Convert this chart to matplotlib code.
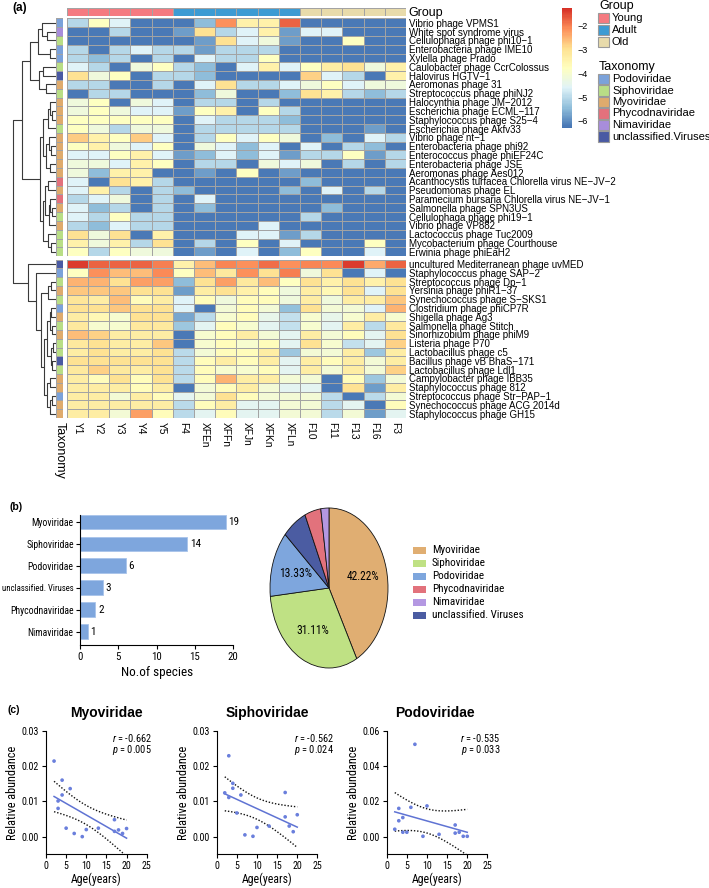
import numpy as np
import matplotlib
matplotlib.use('Agg')
import matplotlib.pyplot as plt
from matplotlib.colors import LinearSegmentedColormap, ListedColormap, Normalize
from matplotlib.patches import Rectangle
from matplotlib import font_manager
import matplotlib.colorbar as mcolorbar

# ---------------------------------------------------------------- data
samples = ['Y1', 'Y2', 'Y3', 'Y4', 'Y5', 'F4', 'XFEn', 'XFFn', 'XFJn', 'XFKn',
           'XFLn', 'F10', 'F11', 'F13', 'F16', 'F3']
sample_groups = ['Young'] * 5 + ['Adult'] * 6 + ['Old'] * 5

species = [
    'Vibrio phage VPMS1', 'White spot syndrome virus', 'Cellulophaga phage phi10\u22121',
    'Enterobacteria phage IME10', 'Xylella phage Prado', 'Caulobacter phage CcrColossus',
    'Halovirus HGTV\u22121', 'Aeromonas phage 31', 'Streptococcus phage phiNJ2',
    'Halocynthia phage JM\u22122012', 'Escherichia phage ECML\u2212117',
    'Staphylococcus phage S25\u22124', 'Escherichia phage Akfv33', 'Vibrio phage nt\u22121',
    'Enterobacteria phage phi92', 'Enterococcus phage phiEF24C', 'Enterobacteria phage JSE',
    'Aeromonas phage Aes012', 'Acanthocystis turfacea Chlorella virus NE\u2212JV\u22122',
    'Pseudomonas phage EL', 'Paramecium bursaria Chlorella virus NE\u2212JV\u22121',
    'Salmonella phage SPN3US', 'Cellulophaga phage phi19\u22121', 'Vibrio phage VP882',
    'Lactococcus phage Tuc2009', 'Mycobacterium phage Courthouse', 'Erwinia phage phiEaH2',
    'uncultured Mediterranean phage uvMED', 'Staphylococcus phage SAP\u22122',
    'Streptococcus phage Dp\u22121', 'Yersinia phage phiR1\u221237',
    'Synechococcus phage S\u2212SKS1', 'Clostridium phage phiCP7R', 'Shigella phage Ag3',
    'Salmonella phage Stitch', 'Sinorhizobium phage phiM9', 'Listeria phage P70',
    'Lactobacillus phage c5', 'Bacillus phage vB BhaS\u2212171', 'Lactobacillus phage Ldl1',
    'Campylobacter phage IBB35', 'Staphylococcus phage 812',
    'Streptococcus phage Str\u2212PAP\u22121', 'Synechococcus phage ACG 2014d',
    'Staphylococcus phage GH15']

taxonomy = ['Podo', 'Nima', 'Sipho', 'Podo', 'Podo', 'Sipho', 'Uncl', 'Myo', 'Sipho',
            'Myo', 'Myo', 'Myo', 'Sipho', 'Myo', 'Myo', 'Myo', 'Myo', 'Myo', 'Phyco',
            'Myo', 'Phyco', 'Myo', 'Sipho', 'Myo', 'Sipho', 'Sipho', 'Sipho',
            'Uncl', 'Podo', 'Sipho', 'Myo', 'Sipho', 'Podo', 'Myo', 'Sipho', 'Myo',
            'Sipho', 'Sipho', 'Uncl', 'Sipho', 'Myo', 'Myo', 'Podo', 'Myo', 'Myo']

n_top_cluster = 27

abundance = [
    [-5.05, -3.8, -4.6, -6.2, -6.2, -6.2, -5.45, -2.15, -3.4, -3.4, -1.75, -6.2, -6.2, -6.2, -6.2, -6.2],
    [-6.2, -6.2, -5.05, -6.2, -6.2, -5.8, -3.0, -5.05, -4.6, -3.4, -5.8, -4.6, -4.6, -6.2, -6.2, -6.2],
    [-6.2, -6.2, -6.2, -6.2, -6.2, -6.2, -5.8, -3.0, -4.6, -4.2, -5.8, -6.2, -6.2, -3.8, -6.2, -6.2],
    [-5.05, -6.2, -5.05, -4.6, -5.05, -5.05, -5.8, -5.05, -5.05, -5.05, -6.2, -6.2, -6.2, -6.2, -6.2, -6.2],
    [-5.05, -5.45, -5.05, -6.2, -5.05, -6.2, -4.6, -5.05, -5.05, -3.8, -6.2, -6.2, -6.2, -6.2, -6.2, -6.2],
    [-4.6, -5.05, -6.2, -4.2, -3.8, -5.05, -5.45, -6.2, -4.6, -3.4, -4.6, -3.8, -3.3, -3.0, -4.2, -3.4],
    [-3.0, -4.2, -3.8, -6.2, -5.05, -5.05, -5.45, -6.2, -6.2, -6.2, -6.2, -2.8, -4.6, -5.05, -6.2, -3.4],
    [-5.05, -5.05, -6.2, -6.2, -5.05, -6.2, -4.6, -3.0, -5.05, -5.05, -4.6, -4.2, -3.8, -4.6, -4.2, -4.2],
    [-6.2, -5.05, -5.05, -6.2, -6.2, -6.2, -5.45, -4.2, -6.2, -6.2, -5.45, -3.0, -3.4, -5.05, -5.45, -5.05],
    [-4.2, -3.8, -6.2, -4.2, -4.6, -6.2, -5.05, -5.05, -6.2, -5.05, -6.2, -6.2, -6.2, -6.2, -6.2, -6.2],
    [-4.2, -3.8, -4.2, -4.6, -4.6, -5.8, -3.8, -3.4, -6.2, -3.8, -5.05, -6.2, -6.2, -6.2, -6.2, -6.2],
    [-3.8, -3.8, -3.8, -3.8, -3.8, -6.2, -4.6, -5.05, -5.05, -5.05, -5.45, -6.2, -6.2, -6.2, -6.2, -6.2],
    [-3.8, -4.2, -5.05, -4.2, -4.2, -6.2, -5.05, -5.05, -5.05, -5.05, -5.05, -6.2, -6.2, -6.2, -5.8, -6.2],
    [-2.75, -3.4, -3.8, -2.75, -4.6, -6.2, -5.05, -3.8, -4.6, -3.8, -4.2, -6.2, -5.45, -6.2, -4.6, -5.05],
    [-3.8, -3.4, -4.2, -4.6, -3.8, -6.2, -4.2, -4.6, -5.45, -4.6, -6.2, -4.6, -6.2, -5.05, -5.45, -6.2],
    [-4.6, -4.6, -3.8, -3.4, -4.6, -5.8, -5.45, -4.6, -5.45, -4.6, -5.8, -5.05, -5.05, -3.8, -5.8, -5.05],
    [-4.2, -4.2, -4.6, -3.4, -3.8, -6.2, -5.05, -5.05, -6.2, -4.2, -4.6, -4.2, -6.2, -5.05, -6.2, -5.05],
    [-4.2, -5.45, -3.4, -3.4, -6.2, -6.2, -5.8, -6.2, -3.8, -6.2, -5.8, -6.2, -6.2, -6.2, -6.2, -6.2],
    [-4.6, -6.2, -3.0, -3.4, -5.05, -6.2, -6.2, -6.2, -6.2, -6.2, -6.2, -5.45, -6.2, -6.2, -6.2, -6.2],
    [-4.6, -3.4, -5.05, -6.2, -5.05, -5.45, -6.2, -6.2, -6.2, -6.2, -5.45, -6.2, -4.6, -6.2, -5.05, -6.2],
    [-5.05, -4.6, -4.2, -6.2, -5.05, -6.2, -4.6, -6.2, -6.2, -6.2, -6.2, -6.2, -6.2, -6.2, -6.2, -6.2],
    [-4.6, -5.45, -5.05, -6.2, -5.05, -6.2, -5.45, -6.2, -6.2, -6.2, -6.2, -6.2, -5.45, -6.2, -6.2, -6.2],
    [-4.6, -5.05, -3.8, -5.05, -5.05, -6.2, -6.2, -6.2, -6.2, -6.2, -6.2, -5.05, -6.2, -6.2, -6.2, -6.2],
    [-5.05, -5.45, -4.6, -5.05, -5.05, -6.2, -6.2, -6.2, -6.2, -4.6, -6.2, -6.2, -6.2, -6.2, -6.2, -6.2],
    [-3.0, -4.2, -3.0, -6.2, -3.4, -6.2, -6.2, -6.2, -4.6, -4.6, -5.8, -5.05, -6.2, -6.2, -6.2, -6.2],
    [-3.4, -4.2, -3.4, -5.05, -3.0, -6.2, -5.05, -6.2, -3.8, -6.2, -4.6, -6.2, -6.2, -6.2, -3.8, -6.2],
    [-3.8, -5.05, -3.8, -4.2, -4.2, -6.2, -5.8, -6.2, -4.6, -6.2, -5.45, -3.8, -6.2, -6.2, -4.6, -6.2],
    [-1.4, -1.75, -1.75, -1.75, -2.0, -3.4, -2.6, -2.05, -2.15, -1.85, -2.15, -2.05, -2.1, -1.4, -2.4, -1.75],
    [-3.8, -2.15, -2.6, -2.6, -2.1, -3.8, -2.6, -3.2, -2.15, -3.0, -2.0, -4.2, -3.0, -6.2, -4.6, -6.2],
    [-2.5, -2.5, -3.0, -2.3, -2.3, -5.45, -3.0, -2.3, -3.2, -2.6, -3.8, -3.0, -3.4, -3.0, -3.4, -3.0],
    [-2.7, -2.7, -2.7, -3.0, -3.0, -5.8, -3.3, -3.0, -3.4, -3.7, -4.2, -3.3, -3.6, -3.0, -4.6, -3.0],
    [-3.1, -3.3, -2.6, -3.7, -3.3, -4.6, -3.7, -4.2, -3.7, -3.7, -4.2, -3.3, -4.2, -3.3, -3.3, -2.7],
    [-3.0, -3.0, -2.7, -3.0, -3.0, -4.6, -6.2, -4.1, -3.7, -4.1, -5.4, -3.0, -4.1, -4.1, -4.6, -2.5],
    [-3.3, -3.6, -4.0, -3.0, -3.0, -5.7, -5.0, -4.0, -3.7, -4.4, -4.9, -4.0, -4.4, -4.0, -3.3, -4.0],
    [-3.2, -4.0, -4.0, -3.2, -3.2, -5.3, -4.5, -3.7, -4.0, -4.5, -4.9, -4.0, -4.5, -3.3, -5.0, -3.2],
    [-2.6, -2.8, -3.3, -3.3, -3.3, -6.2, -4.0, -3.7, -3.3, -4.1, -4.5, -3.3, -4.1, -3.7, -4.5, -3.0],
    [-3.2, -3.0, -3.3, -3.3, -2.7, -6.2, -4.0, -3.7, -4.0, -3.7, -4.5, -3.0, -4.0, -4.9, -4.5, -2.8],
    [-3.3, -3.0, -3.3, -3.3, -3.0, -5.0, -4.1, -3.7, -3.7, -3.3, -5.3, -4.1, -4.1, -3.3, -5.3, -3.3],
    [-3.0, -3.0, -3.0, -3.0, -3.0, -5.0, -3.7, -3.3, -3.7, -3.3, -4.5, -3.3, -3.7, -3.3, -4.1, -3.3],
    [-3.2, -2.8, -3.2, -3.3, -3.0, -5.0, -3.7, -4.0, -4.0, -3.7, -4.5, -3.3, -4.1, -3.3, -4.1, -2.8],
    [-3.3, -3.7, -3.0, -3.7, -3.0, -5.0, -3.7, -2.5, -3.3, -3.3, -4.1, -4.1, -6.2, -3.7, -5.3, -4.1],
    [-3.3, -3.3, -3.3, -3.7, -3.3, -6.2, -4.1, -3.7, -3.3, -4.1, -4.5, -4.5, -6.2, -3.0, -5.8, -3.3],
    [-3.3, -3.3, -4.1, -3.3, -3.7, -4.5, -4.1, -3.0, -3.7, -4.1, -4.1, -4.1, -5.0, -6.2, -5.0, -4.1],
    [-3.3, -3.3, -3.3, -3.3, -3.3, -5.0, -3.7, -3.3, -4.5, -4.5, -4.1, -4.1, -5.0, -4.5, -6.2, -3.7],
    [-3.3, -3.3, -4.1, -2.3, -3.7, -5.0, -4.5, -3.7, -4.5, -4.5, -4.1, -4.1, -5.0, -4.1, -5.8, -4.5],
]
color_range = (-6.28, -1.3)

# row dendrogram: (left, right, merge height); leaves are row indices
tree_A = ((0, (1, 2, 9), 14), (3, 4, 6), 18)
tree_B = ((5, 6, 13), (7, 8, 10), 17)
tree_C1 = ((9, (10, 11, 4), 6), 12, 8)
tree_C2 = ((13, (14, 15, 5), 7), (16, 17, 6), 10)
tree_C3 = ((18, 19, 8), ((20, (21, 22, 4), 6), 23, 7), 11)
tree_C4 = (24, (25, 26, 5), 8)
tree_top = ((tree_A, tree_B, 26), ((tree_C1, tree_C2, 13), (tree_C3, tree_C4, 13.5), 16), 34)
tree_E1 = ((29, 30, 5), 31, 8)
tree_E2 = (((32, 33, 5), (34, 35, 4), 6.5), ((36, 37, 3), (38, 39, 4), 5.5), 9)
tree_E3 = ((40, 41, 6), ((42, 43, 4), 44, 6), 9)
tree_bot = (27, (28, (tree_E1, (tree_E2, tree_E3, 12), 15), 20), 28)
tree_root = (tree_top, tree_bot, 43)

# panel b
families = ['Myoviridae', 'Siphoviridae', 'Podoviridae', 'unclassified. Viruses',
            'Phycodnaviridae', 'Nimaviridae']
species_counts = [19, 14, 6, 3, 2, 1]
legend_order = ['Myoviridae', 'Siphoviridae', 'Podoviridae', 'Phycodnaviridae',
                'Nimaviridae', 'unclassified. Viruses']

# panel c
age_years = [2, 3, 3, 4, 4, 5, 6, 7, 9, 10, 13, 17, 17, 18, 19, 20]
myo_abund = [0.0214, 0.0101, 0.0080, 0.0118, 0.0160, 0.0024, 0.0136, 0.0009,
             0.0000, 0.0020, 0.0024, 0.0048, 0.0015, 0.0019, 0.0009, 0.0023]
sipho_abund = [0.0124, 0.0229, 0.0111, 0.0137, 0.0151, 0.0067, 0.0118, 0.0005,
               0.0001, 0.0026, 0.0030, 0.0125, 0.0056, 0.0030, 0.0014, 0.0062]
podo_abund = [0.0042, 0.0160, 0.0090, 0.0108, 0.0025, 0.0025, 0.0166, 0.0523,
              0.0002, 0.0174, 0.0013, 0.0066, 0.0020, 0.0025, 0.0002, 0.0002]
corr_text = [('-0.662', '0.005'), ('-0.562', '0.024'), ('-0.535', '0.033')]

# ---------------------------------------------------------------- fonts
W, H = 709, 888
SANS = 'Liberation Sans'
ttf = font_manager.fontManager.ttflist
names = {f.name for f in ttf}
NFONT = None
for cand in ['Liberation Sans Narrow', 'Arial Narrow', 'Roboto Condensed',
             'Open Sans Condensed', 'Noto Sans Condensed', 'DejaVu Sans Condensed',
             'Noto Sans SemiCondensed', 'Open Sans SemiCondensed']:
    if cand in names:
        NFONT = dict(family=cand)
        break
if NFONT is None:
    for fam in ['Noto Sans', 'Open Sans', 'Roboto', 'DejaVu Sans', 'Lato', 'Inter']:
        if any(f.name == fam and f.stretch in ('condensed', 'semi-condensed') for f in ttf):
            NFONT = dict(family=fam, stretch='condensed')
            break
HAVE_NARROW = NFONT is not None
if NFONT is None:
    NFONT = dict(family=SANS)
NS = 1.0 if HAVE_NARROW else 0.86   # size factor for the narrow-font panels

plt.rcParams['font.family'] = [SANS, 'DejaVu Sans']
plt.rcParams['mathtext.fontset'] = 'custom'
plt.rcParams['mathtext.it'] = NFONT['family'] + ':italic'
plt.rcParams['mathtext.rm'] = NFONT['family']


def nf(t):
    t.set_family(NFONT['family'])
    if 'stretch' in NFONT:
        t.set_stretch(NFONT['stretch'])
    return t


group_colors = {'Young': '#f57a80', 'Adult': '#3c9bd3', 'Old': '#e8dbab'}
tax_colors = {'Podo': '#7ba2da', 'Sipho': '#b9de86', 'Myo': '#dfab6d',
              'Phyco': '#e3717c', 'Nima': '#a88ddb', 'Uncl': '#4a5aa3'}
tax_names = {'Podo': 'Podoviridae', 'Sipho': 'Siphoviridae', 'Myo': 'Myoviridae',
             'Phyco': 'Phycodnaviridae', 'Nima': 'Nimaviridae',
             'Uncl': 'unclassified.Viruses'}
fam_colors = {'Myoviridae': '#e0ae72', 'Siphoviridae': '#bfe184', 'Podoviridae': '#7ea6dd',
              'Phycodnaviridae': '#e2727c', 'Nimaviridae': '#b498e2',
              'unclassified. Viruses': '#4b5ca2'}
cmap = LinearSegmentedColormap.from_list(
    'rdylbu_r', ['#4575B4', '#91BFDB', '#E0F3F8', '#FFFFBF', '#FEE090', '#FC8D59', '#D73027'], N=100)
norm = Normalize(*color_range)
GRID = '#a3a3a3'

fig = plt.figure(figsize=(W / 100, H / 100), dpi=100)


def px_axes(l, t, w, h):
    return fig.add_axes([l / W, 1 - (t + h) / H, w / W, h / H])


def strip(ax):
    for s in ax.spines.values():
        s.set_visible(False)


# ---------------------------------------------------------------- (a) heatmap
HX0, HX1 = 66.7, 406.0
ROW_H = 8.8
TOP_Y0, BOT_Y0 = 18.5, 259.6
data = np.array(abundance)
n_rows = data.shape[0]
ncol = len(samples)
keys = list(tax_colors.keys())

blocks = [(TOP_Y0, slice(0, n_top_cluster)), (BOT_Y0, slice(n_top_cluster, n_rows))]
for bi, (y0, sl) in enumerate(blocks):
    sub = data[sl]
    nr = sub.shape[0]
    ax = px_axes(HX0, y0, HX1 - HX0, nr * ROW_H)
    ax.pcolormesh(sub, cmap=cmap, norm=norm, edgecolors=GRID, linewidth=0.7)
    ax.set_xlim(0, ncol)
    ax.set_ylim(nr, 0)
    strip(ax)
    ax.yaxis.tick_right()
    ax.set_yticks(np.arange(nr) + 0.5)
    ax.set_yticklabels(species[sl], fontsize=7)
    ax.tick_params(axis='y', length=0, pad=2)
    if bi == 1:
        ax.set_xticks(np.arange(ncol) + 0.5)
        ax.set_xticklabels(samples, rotation=-90, fontsize=7.3)
        ax.tick_params(axis='x', length=0, pad=3)
    else:
        ax.set_xticks([])

    axt = px_axes(56.0, y0, 7.4, nr * ROW_H)
    codes = np.array([[keys.index(t)] for t in taxonomy[sl]])
    axt.pcolormesh(codes, cmap=ListedColormap([tax_colors[k] for k in keys]),
                   vmin=-0.5, vmax=len(keys) - 0.5, edgecolors=GRID, linewidth=0.7)
    axt.set_xlim(0, 1)
    axt.set_ylim(nr, 0)
    strip(axt)
    axt.set_yticks([])
    if bi == 1:
        axt.set_xticks([0.5])
        axt.set_xticklabels(['Taxonomy'], rotation=-90, fontsize=9)
        axt.tick_params(axis='x', length=0, pad=3)
    else:
        axt.set_xticks([])

axg = px_axes(HX0, 7.7, HX1 - HX0, 8.3)
gkeys = list(group_colors.keys())
axg.pcolormesh(np.array([[gkeys.index(g) for g in sample_groups]]),
               cmap=ListedColormap([group_colors[k] for k in gkeys]),
               vmin=-0.5, vmax=len(gkeys) - 0.5, edgecolors=GRID, linewidth=0.7)
axg.set_xlim(0, ncol)
axg.set_ylim(1, 0)
strip(axg)
axg.set_xticks([])
axg.yaxis.tick_right()
axg.set_yticks([0.5])
axg.set_yticklabels(['Group'], fontsize=9)
axg.tick_params(axis='y', length=0, pad=2)

gap = (BOT_Y0 - TOP_Y0 - n_top_cluster * ROW_H) / ROW_H
total_rows = n_rows + gap
axd = px_axes(12.0, TOP_Y0, 44.0, total_rows * ROW_H)
axd.set_xlim(44, 0)
axd.set_ylim(total_rows, 0)
axd.axis('off')


def leaf_y(i):
    return i + 0.5 + (gap if i >= n_top_cluster else 0)


def draw_tree(node):
    if isinstance(node, int):
        return leaf_y(node), 0.0
    a, b, h = node
    ya, ha = draw_tree(a)
    yb, hb = draw_tree(b)
    axd.plot([ha, h, h, hb], [ya, ya, yb, yb], color='#3a3a3a', lw=0.8,
             solid_capstyle='butt')
    return (ya + yb) / 2, h


draw_tree(tree_root)

axc = px_axes(561.7, 8.3, 10.0, 119.4)
cb = mcolorbar.ColorbarBase(axc, cmap=cmap, norm=norm, orientation='vertical',
                            ticks=[-2, -3, -4, -5, -6])
cb.outline.set_visible(False)
axc.tick_params(length=0, pad=4, labelsize=6.5)

ov = fig.add_axes([0, 0, 1, 1], zorder=-1)
ov.set_xlim(0, W)
ov.set_ylim(H, 0)
ov.axis('off')

ov.text(599, 5.5, 'Group', fontsize=9, va='center', ha='left')
for i, g in enumerate(gkeys):
    yc = 18 + i * 12
    ov.add_patch(Rectangle((597.5, yc - 5), 11.5, 10, facecolor=group_colors[g],
                           edgecolor='#9a9a9a', lw=0.8))
    ov.text(612, yc, g, fontsize=8, va='center', ha='left')

ov.text(599, 67, 'Taxonomy', fontsize=9, va='center', ha='left')
for i, k in enumerate(keys):
    yc = 79 + i * 11.5
    ov.add_patch(Rectangle((597.5, yc - 5.2), 11.5, 10.4, facecolor=tax_colors[k],
                           edgecolor='#9a9a9a', lw=0.8))
    ov.text(612, yc, tax_names[k], fontsize=8, va='center', ha='left')

ov.text(12, 7.5, '(a)', fontsize=8.5, fontweight='bold', va='center', ha='left')
ov.text(9, 506.5, '(b)', fontsize=7.5, fontweight='bold', va='center', ha='left')
ov.text(7, 709.5, '(c)', fontsize=7.5, fontweight='bold', va='center', ha='left')

# ---------------------------------------------------------------- (b) bar
axb = px_axes(80, 515, 153.3, 130)
ypos = np.arange(len(families))[::-1]
axb.barh(ypos, species_counts, height=0.68, color='#7ea6dd', edgecolor='#a8c3ea', lw=0.6)
for yy, v in zip(ypos, species_counts):
    nf(axb.text(v + 0.35, yy, str(v), va='center', ha='left', fontsize=8 * NS))
axb.set_xlim(0, 20)
axb.set_ylim(-0.6, 5.32)
axb.set_yticks(ypos)
axb.set_yticklabels(families)
axb.set_xticks([0, 5, 10, 15, 20])
axb.tick_params(axis='both', length=3, width=0.8, pad=2)
axb.tick_params(axis='x', labelsize=(7.8 if HAVE_NARROW else 6.6))
axb.tick_params(axis='y', labelsize=(7.0 if HAVE_NARROW else 6.2), pad=1.5)
for lab in axb.get_xticklabels() + axb.get_yticklabels():
    nf(lab)
    if len(lab.get_text()) > 16:          # the longest label has to fit the margin
        lab.set_fontsize(6.3 if HAVE_NARROW else 5.4)
axb.spines['top'].set_visible(False)
axb.spines['right'].set_visible(False)
for s in ('left', 'bottom'):
    axb.spines[s].set_linewidth(0.8)
nf(axb.set_xlabel('No.of species', fontsize=9.5 * NS, labelpad=3))

axp = px_axes(270, 508, 118, 160)
pie_colors = [fam_colors[f] for f in families]
wedges, _, autotexts = axp.pie(
    species_counts, colors=pie_colors, startangle=90, counterclock=False,
    autopct=lambda p: f'{p:.2f}%' if p > 10 else '', pctdistance=0.6,
    wedgeprops=dict(edgecolor='#111111', linewidth=0.6))
for t in autotexts:
    t.set_fontsize(8.3 * NS)
    nf(t)
axp.set_aspect('auto')
axp.set_xlim(-1, 1)
axp.set_ylim(-1, 1)

for i, f in enumerate(legend_order):
    yc = 550 + i * 13
    ov.add_patch(Rectangle((413, yc - 3.5), 13, 7, facecolor=fam_colors[f], edgecolor='none'))
    nf(ov.text(432, yc, f, fontsize=8 * NS, va='center', ha='left'))

# ---------------------------------------------------------------- (c) scatter
T_CRIT = 2.145  # t(0.975, df=14)
panels = [
    ('Myoviridae', myo_abund, 46.0, (-0.005, 0.03), [0, 0.01, 0.02, 0.03], 0.60, 1.05),
    ('Siphoviridae', sipho_abund, 216.7, (-0.005, 0.03), [0, 0.01, 0.02, 0.03], 0.50, 1.165),
    ('Podoviridae', podo_abund, 386.7, (-0.01, 0.06), [0, 0.02, 0.04, 0.06], 0.48, 1.13),
]
x = np.array(age_years, dtype=float)
for (title, vals, left, ylim, yt, tx, rx), (rtxt, ptxt) in zip(panels, corr_text):
    ax = px_axes(left, 730.7, 100.7, 123.6)
    y = np.array(vals)
    slope, inter = np.polyfit(x, y, 1)
    xs = np.linspace(x.min(), x.max(), 100)
    yhat = inter + slope * xs
    resid = y - (inter + slope * x)
    n = len(x)
    s = np.sqrt(np.sum(resid ** 2) / (n - 2))
    se = s * np.sqrt(1 / n + (xs - x.mean()) ** 2 / np.sum((x - x.mean()) ** 2))
    ax.plot(xs, yhat + T_CRIT * se, color='#111111', lw=1.0, ls=(0, (1, 1.3)))
    ax.plot(xs, yhat - T_CRIT * se, color='#111111', lw=1.0, ls=(0, (1, 1.3)))
    ax.plot(xs, yhat, color='#5f73d3', lw=1.1)
    ax.scatter(x, y, s=7, color='#6a7fdc', edgecolors='none', zorder=3)
    ax.set_xlim(0, 25)
    ax.set_ylim(*ylim)
    ax.set_xticks([0, 5, 10, 15, 20, 25])
    ax.set_yticks(yt)
    ax.set_yticklabels([f'{v:.2f}' for v in yt])
    ax.tick_params(axis='both', length=3, width=0.8, labelsize=(7.2 if HAVE_NARROW else 6.4), pad=2)
    for lab in ax.get_xticklabels() + ax.get_yticklabels():
        nf(lab)
    ax.spines['top'].set_visible(False)
    ax.spines['right'].set_visible(False)
    for sp in ('left', 'bottom'):
        ax.spines[sp].set_linewidth(0.8)
    nf(ax.set_xlabel('Age(years)', fontsize=8.5 * NS, labelpad=1))
    nf(ax.set_ylabel('Relative abundance', fontsize=(8.8 if HAVE_NARROW else 8.0), labelpad=2))
    ax.text(tx, 1.14, title, transform=ax.transAxes, fontsize=10, fontweight='bold',
            ha='center', va='center')
    nf(ax.text(rx, 0.94, r'$\it{r}$ = ' + rtxt, transform=ax.transAxes, fontsize=7.5 * NS,
               ha='right', va='center'))
    nf(ax.text(rx, 0.845, r'$\it{p}$ = ' + ptxt, transform=ax.transAxes, fontsize=7.5 * NS,
               ha='right', va='center'))

fig.savefig('out.png', dpi=100)
